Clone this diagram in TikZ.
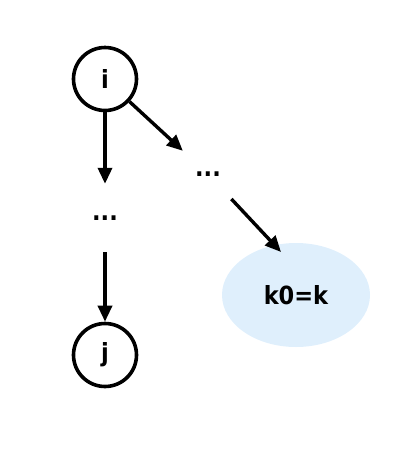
\documentclass[tikz,border=0pt]{standalone}
\usepackage{fontspec}
\setmainfont{DejaVu Sans Condensed}
\usetikzlibrary{shapes.geometric,arrows.meta,positioning}

\definecolor{lightblue}{HTML}{DFEFFC}

\begin{document}
\begin{tikzpicture}[x=1pt, y=-1pt,
    vertex/.style={circle, draw, line width=3.6pt, minimum size=63pt, inner sep=0pt, font=\fontsize{25}{30}\selectfont\bfseries},
    gap/.style={circle, minimum size=68pt, inner sep=0pt, font=\fontsize{25}{30}\selectfont\bfseries},
    target/.style={ellipse, fill=lightblue, minimum width=148pt, minimum height=104pt, inner sep=0pt, font=\fontsize{25}{30}\selectfont\bfseries},
    link/.style={-{Triangle[length=16pt,width=14pt]}, line width=3.4pt}]
    \useasboundingbox (0,0) rectangle (408,472);
    % nodes
    \node [vertex] (i) at (105,79) {i};
    \node [gap] (left) at (105,218) {...};
    \node [gap] (right) at (208,174) {...};
    \node [vertex] (j) at (105,355) {j};
    \node [target] (k) at (296,295) {k0=k};
    \coordinate (kin) at (281,252);
    % arrows
    \draw [link] (i) -- (left);
    \draw [link] (left) -- (j);
    \draw [link] (i) -- (right);
    \draw [link] (right) -- (kin);
\end{tikzpicture}
\end{document}
